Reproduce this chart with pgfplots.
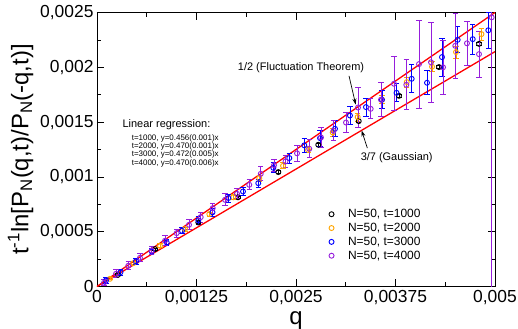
\documentclass[border=0pt]{standalone}
\usepackage{fontspec}
\setmainfont{Liberation Sans}
\usepackage{pgfplots}
\usepackage{pgfplotstable}
\pgfplotsset{compat=1.18}
\usetikzlibrary{arrows.meta}
\definecolor{gorange}{RGB}{255,165,0}
\definecolor{gblue}{RGB}{0,0,255}
\definecolor{gviolet}{RGB}{150,30,220}

% t=1000
\pgfplotstableread{
q y e
0.000264 0.000107 0.000010
0.000729 0.000341 0.000010
0.001273 0.000584 0.000010
0.001771 0.000814 0.000012
0.002278 0.001044 0.000012
0.002780 0.001293 0.000014
0.003288 0.001509 0.000014
0.003794 0.001740 0.000014
0.004296 0.002002 0.000016
0.004799 0.002214 0.000016
}\tone
% t=2000
\pgfplotstableread{
q y e
0.000163 0.0000703 0.0000091
0.000456 0.000213 0.0000137
0.000791 0.000371 0.0000182
0.001106 0.000524 0.0000182
0.001411 0.000661 0.0000182
0.001712 0.000814 0.0000228
0.002039 0.000989 0.0000274
0.002337 0.001101 0.0000274
0.002651 0.001247 0.0000274
0.002961 0.001405 0.0000365
0.003275 0.001546 0.0000365
0.003580 0.001704 0.0000365
0.003891 0.001865 0.0000456
0.004209 0.002005 0.0000456
0.004510 0.002139 0.0000547
0.004830 0.002303 0.0000547
}\ttwo
% t=3000
\pgfplotstableread{
q y e
0.000113 0.0000547 0.0000274
0.000295 0.000130 0.0000274
0.000490 0.000230 0.0000274
0.000687 0.000319 0.0000274
0.000876 0.000401 0.0000274
0.001068 0.000508 0.0000274
0.001273 0.000604 0.0000365
0.001451 0.000677 0.0000365
0.001650 0.000807 0.0000365
0.001834 0.000867 0.0000365
0.002026 0.000943 0.0000365
0.002215 0.001083 0.0000456
0.002416 0.001172 0.0000456
0.002604 0.001288 0.0000638
0.002802 0.001354 0.0000730
0.002990 0.001439 0.0000730
0.003178 0.001560 0.0000820
0.003379 0.001637 0.0000820
0.003580 0.001704 0.0000820
0.003763 0.001767 0.0000820
0.003953 0.001895 0.000128
0.004146 0.001859 0.000109
0.004334 0.002093 0.000173
0.004531 0.002251 0.000119
0.004720 0.002257 0.000137
0.004916 0.002338 0.000164
}\tthree
% t=4000
\pgfplotstableread{
q y e
0.000088 0.0000338 0.0000274
0.000239 0.000116 0.0000365
0.000393 0.000189 0.0000365
0.000540 0.000262 0.0000365
0.000687 0.000328 0.0000365
0.000854 0.000417 0.0000456
0.001001 0.000487 0.0000365
0.001156 0.000563 0.0000456
0.001303 0.000633 0.0000456
0.001454 0.000715 0.0000456
0.001608 0.000791 0.0000547
0.001759 0.000846 0.0000456
0.001913 0.000928 0.0000456
0.002057 0.001028 0.0000638
0.002224 0.001107 0.0000547
0.002368 0.001141 0.0000547
0.002513 0.001215 0.0000730
0.002667 0.001256 0.0000820
0.002814 0.001360 0.0000912
0.002971 0.001421 0.0000912
0.003128 0.001496 0.0000912
0.003279 0.001633 0.000182
0.003438 0.001621 0.0000912
0.003568 0.001704 0.000155
0.003731 0.001850 0.000246
0.003886 0.001840 0.000228
0.004045 0.002029 0.000400
0.004196 0.002046 0.000365
0.004347 0.002000 0.000246
0.004501 0.002196 0.000300
0.004648 0.002219 0.000200
0.004799 0.002120 0.000210
0.004958 0.002456 0.002600
}\tfour

\pgfplotsset{
  ser/.style={only marks, mark=o, mark size=2.5bp,
    mark options={line width=0.9bp},
    error bars/y dir=both, error bars/y explicit,
    error bars/error bar style={line width=0.8bp},
    error bars/error mark options={rotate=90, mark size=2.6bp, line width=0.8bp}},
}

\begin{document}
\begin{tikzpicture}
\begin{axis}[
  scale only axis, width=398bp, height=274bp,
  xmin=0, xmax=0.005, ymin=0, ymax=0.0025,
  xtick={0,0.00125,0.0025,0.00375,0.005},
  xticklabels={0,{0,00125},{0,0025},{0,00375},{0,005}},
  ytick={0,0.0005,0.001,0.0015,0.002,0.0025},
  yticklabels={0,{0,0005},{0,001},{0,0015},{0,002},{0,0025}},
  scaled ticks=false,
  minor x tick num=1, minor y tick num=1,
  tick align=inside,
  major tick length=7bp, minor tick length=4bp,
  every tick/.style={black, line width=0.8bp},
  axis line style={line width=0.9bp},
  tick label style={font=\fontsize{17.5}{17.5}\selectfont},
  xlabel={q},
  ylabel={t\textsuperscript{-1}ln[P\textsubscript{N}(q,t)/P\textsubscript{N}(-q,t)]},
  label style={font=\fontsize{24}{24}\selectfont},
  legend style={at={(0.575,0.297)}, anchor=north west, draw=none, fill=none,
    font=\fontsize{12}{12}\selectfont, row sep=0bp,
    /tikz/every odd column/.append style={column sep=12bp}},
  legend cell align=left,
]
\coordinate (sw) at (rel axis cs:0,0);
\coordinate (ne) at (rel axis cs:1,1);
\addplot[red, line width=1.3bp, forget plot] coordinates {(0,0) (0.005,0.0025)};
\addplot[red, line width=1.3bp, forget plot] coordinates {(0,0) (0.005,0.0021429)};
\addplot[ser, black] table[x=q, y=y, y error=e] {\tone};
\addlegendentry{N=50, t=1000}
\addplot[ser, gorange] table[x=q, y=y, y error=e] {\ttwo};
\addlegendentry{N=50, t=2000}
\addplot[ser, gblue] table[x=q, y=y, y error=e] {\tthree};
\addlegendentry{N=50, t=3000}
\addplot[ser, gviolet] table[x=q, y=y, y error=e] {\tfour};
\addlegendentry{N=50, t=4000}

\node[font=\fontsize{11}{11}\selectfont] at (axis cs:0.002563,0.001995) {1/2 (Fluctuation Theorem)};
\draw[-{Stealth[length=6bp,width=4bp]}, line width=0.7bp] (axis cs:0.003166,0.001922) -- (axis cs:0.00325,0.00166);
\node[font=\fontsize{11}{11}\selectfont] at (axis cs:0.003765,0.001172) {3/7 (Gaussian)};
\draw[-{Stealth[length=6bp,width=4bp]}, line width=0.7bp] (axis cs:0.003396,0.001263) -- (axis cs:0.003325,0.001423);
\node[font=\fontsize{11}{11}\selectfont] at (axis cs:0.000873,0.001474) {Linear regression:};
\node[font=\fontsize{8}{6.7}\selectfont, align=left, anchor=north west, inner sep=0pt]
  at (axis cs:0.000435,0.00139)
  {t=1000, y=0.456(0.001)x\\t=2000, y=0.470(0.001)x\\t=3000, y=0.472(0.005)x\\t=4000, y=0.470(0.006)x};
\end{axis}
\pgfresetboundingbox
\path ([shift={(-97bp,-42.3bp)}]sw) rectangle ([shift={(23bp,12.5bp)}]ne);
\end{tikzpicture}
\end{document}
